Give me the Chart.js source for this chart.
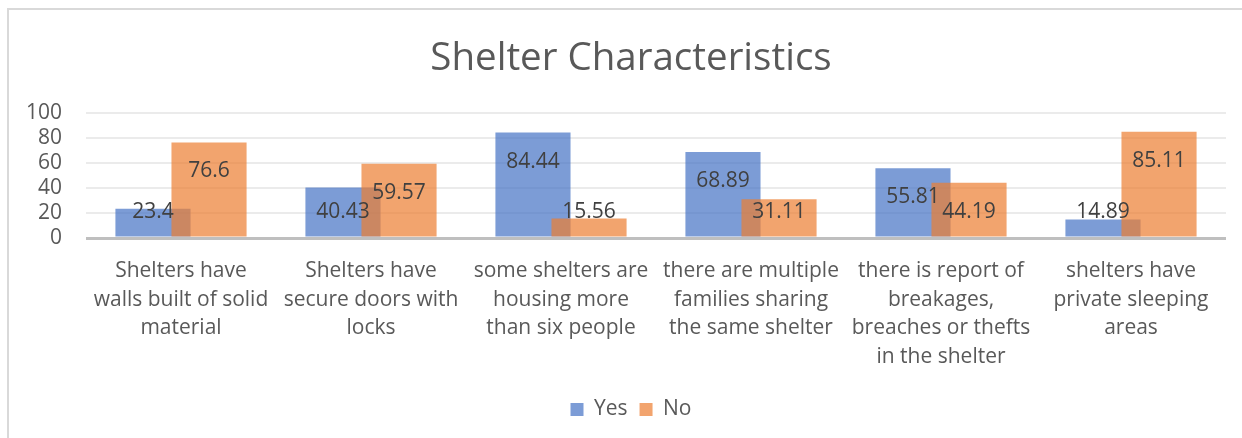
<!DOCTYPE html>
<html>
<head>
<meta charset="utf-8">
<script src="https://cdn.jsdelivr.net/npm/chart.js@4/dist/chart.umd.min.js"></script>
<style>
  html, body { margin: 0; padding: 0; background: #fff; overflow: hidden; width: 1242px; height: 438px; }
  #frame { position: absolute; left: 7px; top: 8px; width: 1300px; height: 500px;
           border-left: 2px solid #d9d9d9; border-top: 2px solid #d9d9d9; }
  #chart { position: absolute; left: 0; top: 0; }
</style>
</head>
<body>
<div id="frame"></div>
<canvas id="chart" width="1262" height="438"></canvas>
<script>
const categories = [
    ['Shelters have', 'walls built of solid', 'material'],
    ['Shelters have', 'secure doors with', 'locks'],
    ['some shelters are', 'housing more', 'than six people'],
    ['there are multiple', 'families sharing', 'the same shelter'],
    ['there is report of', 'breakages,', 'breaches or thefts', 'in the shelter'],
    ['shelters have', 'private sleeping', 'areas']
];
const yesValues = [23.4, 40.43, 84.44, 68.89, 55.81, 14.89];
const noValues = [76.6, 59.57, 15.56, 31.11, 44.19, 85.11];
const seriesNames = ['Yes', 'No'];

const font = 'Open Sans';

// Excel-style labels: just inside the top of the bar, never lower than near the axis
const barLabels = {
    id: 'barLabels',
    afterDatasetsDraw(chart) {
        const ctx = chart.ctx;
        ctx.save();
        ctx.font = '21px "' + font + '"';
        ctx.fillStyle = '#404040';
        ctx.textAlign = 'center';
        ctx.textBaseline = 'middle';
        chart.data.datasets.forEach((ds, i) => {
            chart.getDatasetMeta(i).data.forEach((bar, j) => {
                const y = Math.min(bar.y + 29, bar.base - 24);
                ctx.fillText(String(ds.data[j]), bar.x, y);
            });
        });
        ctx.restore();
    }
};

// draw "Yes" under "No" so the overlap looks like the original
const drawOrder = {
    id: 'drawOrder',
    beforeDatasetDraw(chart, args) {
        if (args.index === 1) {
            chart.getDatasetMeta(0).controller.draw();
        }
        if (args.index === 0) return false;
    }
};

const ctx = document.getElementById('chart').getContext('2d');
new Chart(ctx, {
    type: 'bar',
    data: {
        labels: categories,
        datasets: [{
            label: seriesNames[0],
            data: yesValues,
            backgroundColor: 'rgba(68,114,196,0.7)',
            borderWidth: 0
        }, {
            label: seriesNames[1],
            data: noValues,
            backgroundColor: 'rgba(237,125,49,0.7)',
            borderWidth: 0
        }]
    },
    options: {
        responsive: false,
        animation: false,
        devicePixelRatio: 1,
        categoryPercentage: 0.59,
        barPercentage: 1.34,
        layout: { padding: { left: 0, right: 0, top: 0, bottom: 8 } },
        plugins: {
            tooltip: { enabled: false },
            title: {
                display: true,
                text: 'Shelter Characteristics',
                color: '#595959',
                font: { family: font, size: 38.5, weight: 'normal', lineHeight: 1.2 },
                padding: { top: 36, bottom: 31 }
            },
            legend: {
                position: 'bottom',
                labels: {
                    color: '#595959',
                    font: { family: font, size: 21 },
                    boxWidth: 13,
                    boxHeight: 13,
                    padding: 12
                }
            }
        },
        scales: {
            x: {
                grid: { display: false, drawTicks: false },
                border: { display: false },
                ticks: {
                    color: '#595959',
                    font: { family: font, size: 21, lineHeight: 1.36 },
                    maxRotation: 0,
                    autoSkip: false,
                    padding: 19
                },
                afterFit(scale) { scale.height = 149; }
            },
            y: {
                min: 0,
                max: 100,
                ticks: {
                    stepSize: 20,
                    autoSkip: false,
                    color: '#595959',
                    font: { family: font, size: 21 },
                    padding: 24
                },
                border: { display: false },
                grid: {
                    drawTicks: false,
                    color: c => c.tick.value === 0 ? '#bfbfbf' : '#ebebeb',
                    lineWidth: c => c.tick.value === 0 ? 3 : 2
                },
                afterFit(scale) { scale.width = 86; }
            },
            // empty right-hand spacer so the title and legend sit where Excel put them
            spacer: {
                type: 'linear',
                position: 'right',
                grid: { display: false, drawTicks: false },
                border: { display: false },
                ticks: { display: false },
                afterFit(scale) { scale.width = 36; }
            }
        }
    },
    plugins: [drawOrder, barLabels]
});
</script>
</body>
</html>
